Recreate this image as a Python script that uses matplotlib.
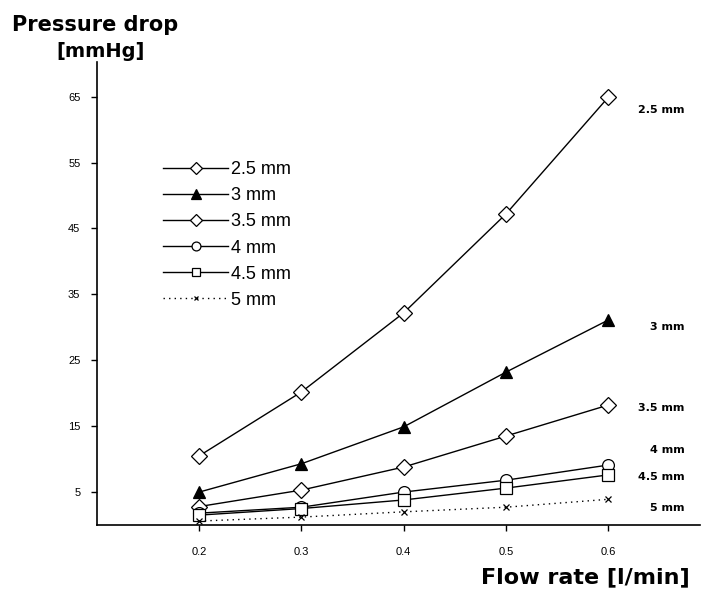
import matplotlib
matplotlib.use("Agg")
import matplotlib.pyplot as plt

plt.rcParams['font.family'] = ['Liberation Sans', 'DejaVu Sans']

# 数据
flow = [0.2, 0.3, 0.4, 0.5, 0.6]
p_25 = [10.5, 20.2, 32.2, 47.2, 64.9]
p_30 = [5.0, 9.3, 14.9, 23.2, 31.1]
p_35 = [2.8, 5.3, 8.8, 13.5, 18.2]
p_40 = [1.8, 2.7, 5.0, 6.8, 9.1]
p_45 = [1.5, 2.5, 3.8, 5.6, 7.6]
p_50 = [0.6, 1.2, 2.0, 2.7, 3.9]
labels = ['2.5 mm', '3 mm', '3.5 mm', '4 mm', '4.5 mm', '5 mm']
yticks = [5, 15, 25, 35, 45, 55, 65]
xticks = [0.2, 0.3, 0.4, 0.5, 0.6]

fig = plt.figure(figsize=(7.03, 6.0), dpi=100)
ax = fig.add_axes([0.138, 0.125, 0.858, 0.772])

series = [p_25, p_30, p_35, p_40, p_45, p_50]
styles = [
    dict(marker='D', ms=8, mfc='white', ls='-'),
    dict(marker='^', ms=9, mfc='black', ls='-'),
    dict(marker='D', ms=8, mfc='white', ls='-'),
    dict(marker='o', ms=8.5, mfc='white', ls='-'),
    dict(marker='s', ms=8, mfc='white', ls='-'),
    dict(marker='x', ms=4, mfc='white', ls=(0, (1, 3))),
]
for vals, lab, st in zip(series, labels, styles):
    ax.plot(flow, vals, color='black', lw=1, mec='black', mew=0.9, label=lab, **st)

# 右侧标注（右对齐）
label_y = [63.0, 30.1, 17.8, 11.4, 7.3, 2.6]
for lab, yv in zip(labels, label_y):
    ax.text(0.675, yv, lab, fontsize=8, fontweight='bold', va='center', ha='right',
            family=['DejaVu Sans'])

ax.set_xlim(0.1, 0.69)
ax.set_ylim(0, 70.3)
ax.set_xticks(xticks)
ax.set_xticklabels([f'{x:.1f}' for x in xticks], fontsize=8)
ax.set_yticks(yticks)
ax.set_yticklabels([str(y) for y in yticks], fontsize=8)
ax.tick_params(direction='out', length=4, width=1, pad=12)
ax.tick_params(axis='y', pad=8)
for s in ['top', 'right']:
    ax.spines[s].set_visible(False)
for s in ['left', 'bottom']:
    ax.spines[s].set_linewidth(1.2)

leg = ax.legend(loc='upper left', bbox_to_anchor=(0.083, 0.82), frameon=False,
                fontsize=13, handlelength=3.6, handletextpad=0.15, labelspacing=0.5,
                markerscale=0.75)

fig.text(0.135, 0.948, 'Pressure drop', fontsize=15, fontweight='bold', ha='center',
         family=['DejaVu Sans'])
fig.text(0.143, 0.905, '[mmHg]', fontsize=14, fontweight='bold', ha='center',
         family=['DejaVu Sans'])
fig.text(0.833, 0.027, 'Flow rate [l/min]', fontsize=16, fontweight='bold', ha='center',
         family=['DejaVu Sans'])

plt.savefig('out.png', dpi=100)
